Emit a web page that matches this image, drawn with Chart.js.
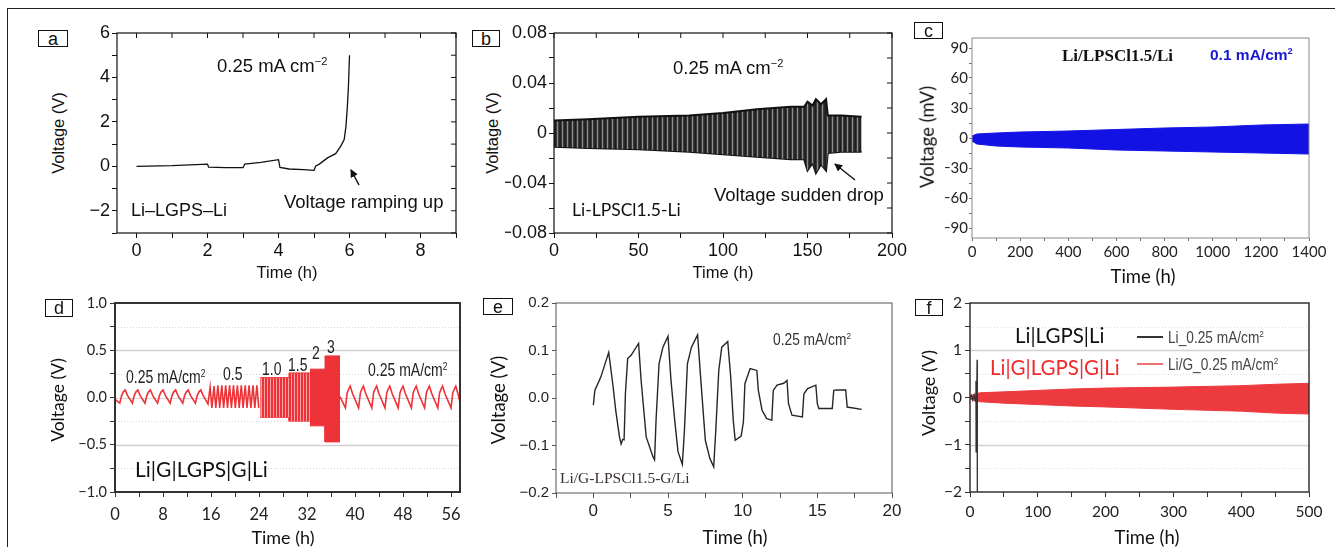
<!DOCTYPE html>
<html>
<head>
<meta charset="utf-8">
<script src="https://cdn.jsdelivr.net/npm/chart.js@4.4.1/dist/chart.umd.min.js"></script>
<style>
  body { margin: 0; width: 1335px; height: 547px; background: #fff; position: relative; overflow: hidden;
         font-family: "Liberation Sans", Arial, sans-serif; color: #111; }
  canvas { position: absolute; }
  .t { position: absolute; white-space: nowrap; line-height: 1; transform: translateY(-50%); }
  .tc { position: absolute; white-space: nowrap; line-height: 1; transform: translate(-50%, -50%); }
  .tv { position: absolute; white-space: nowrap; line-height: 1; transform: translate(-50%, -50%) rotate(-90deg); }
  .nar { transform: translateY(-50%) scaleX(0.8); transform-origin: left center; }
  .lato { font-family: Lato, "Open Sans", sans-serif; }
  .serif { font-family: "Liberation Serif", "Times New Roman", serif; }
  .box { position: absolute; border: 1.5px solid #111; box-sizing: border-box; background: #fff;
         display: flex; align-items: center; justify-content: center; font-size: 18px; line-height: 1; }
  sup { font-size: 0.6em; vertical-align: 0; position: relative; top: -0.6em; }
  #outer { position: absolute; left: 7px; top: 8px; width: 1400px; height: 600px;
           border-left: 1.5px solid #222; border-top: 1.5px solid #222; }
</style>
</head>
<body>
<div id="outer"></div>

<canvas id="chartA" width="400" height="245" style="left:70px;top:18px"></canvas>
<canvas id="chartB" width="412" height="245" style="left:505px;top:18px"></canvas>
<canvas id="chartC" width="385" height="245" style="left:945px;top:20px"></canvas>
<canvas id="chartD" width="400" height="240" style="left:70px;top:288px"></canvas>
<canvas id="chartE" width="412" height="240" style="left:505px;top:288px"></canvas>
<canvas id="chartF" width="405" height="240" style="left:925px;top:288px"></canvas>

<!-- panel a -->
<div class="box" style="left:38px;top:30px;width:30px;height:17px">a</div>
<div class="t" style="left:217px;top:66px;font-size:18.5px">0.25 mA cm<sup>−2</sup></div>
<div class="t" style="left:131px;top:210px;font-size:18px">Li–LGPS–Li</div>
<div class="t" style="left:284px;top:202px;font-size:18.5px">Voltage ramping up</div>
<div class="tc" style="left:287px;top:272px;font-size:16.5px">Time (h)</div>
<div class="tv" style="left:58px;top:133px;font-size:16.5px">Voltage (V)</div>

<!-- panel b -->
<div class="box" style="left:472px;top:30px;width:28px;height:17px">b</div>
<div class="t" style="left:673px;top:68px;font-size:18.5px">0.25 mA cm<sup>−2</sup></div>
<div class="t lato" style="left:572px;top:210px;font-size:17.5px">Li-LPSCl1.5-Li</div>
<div class="t" style="left:714px;top:195px;font-size:18.5px">Voltage sudden drop</div>
<div class="tc" style="left:723px;top:272px;font-size:16.5px">Time (h)</div>
<div class="tv" style="left:492px;top:133px;font-size:16.5px">Voltage (V)</div>

<!-- panel c -->
<div class="box" style="left:914px;top:22px;width:29px;height:17px">c</div>
<div class="t serif" style="left:1062px;top:55px;font-size:17px;font-weight:bold">Li/LPSCl1.5/Li</div>
<div class="t" style="left:1210px;top:55px;font-size:15.5px;font-weight:bold;color:#1818d0">0.1 mA/cm<sup>2</sup></div>
<div class="tc lato" style="left:1143px;top:276px;font-size:18.5px">Time (h)</div>
<div class="tv lato" style="left:927px;top:137px;font-size:18.5px">Voltage (mV)</div>

<!-- panel d -->
<div class="box" style="left:45px;top:299px;width:28px;height:18px">d</div>
<div class="t nar" style="left:126px;top:378px;font-size:17.5px;color:#222">0.25 mA/cm<sup>2</sup></div>
<div class="t nar" style="left:223px;top:375px;font-size:17.5px;color:#222">0.5</div>
<div class="t nar" style="left:262px;top:370px;font-size:17.5px;color:#222">1.0</div>
<div class="t nar" style="left:288px;top:366px;font-size:17.5px;color:#222">1.5</div>
<div class="t nar" style="left:312px;top:354px;font-size:17.5px;color:#222">2</div>
<div class="t nar" style="left:327px;top:348px;font-size:17.5px;color:#222">3</div>
<div class="t nar" style="left:368px;top:371px;font-size:17.5px;color:#222">0.25 mA/cm<sup>2</sup></div>
<div class="t lato" style="left:135px;top:468px;font-size:21px;color:#111">Li|G|LGPS|G|Li</div>
<div class="tc lato" style="left:283px;top:537px;font-size:18px">Time (h)</div>
<div class="tv lato" style="left:58px;top:400px;font-size:17.5px">Voltage (V)</div>

<!-- panel e -->
<div class="box" style="left:483px;top:298px;width:30px;height:17px">e</div>
<div class="t" style="left:773px;top:340px;font-size:16px;color:#333;transform:translateY(-50%) scaleX(0.86);transform-origin:left center">0.25 mA/cm<sup>2</sup></div>
<div class="t serif" style="left:560px;top:478px;font-size:15.5px;color:#3a3030">Li/G-LPSCl1.5-G/Li</div>
<div class="tc lato" style="left:735px;top:537px;font-size:18.5px">Time (h)</div>
<div class="tv lato" style="left:498px;top:400px;font-size:18.5px">Voltage (V)</div>

<!-- panel f -->
<div class="box" style="left:915px;top:299px;width:28px;height:17px">f</div>
<div class="t lato" style="left:1015px;top:335px;font-size:20.5px;color:#111">Li|LGPS|Li</div>
<div class="t lato" style="left:990px;top:367px;font-size:20.5px;color:#ee2a2a">Li|G|LGPS|G|Li</div>
<div style="position:absolute;left:1137px;top:336px;width:26px;height:1.5px;background:#333"></div>
<div class="t" style="left:1168px;top:337px;font-size:16.5px;color:#444;transform:translateY(-50%) scaleX(0.83);transform-origin:left center">Li_0.25 mA/cm<sup>2</sup></div>
<div style="position:absolute;left:1137px;top:363px;width:26px;height:2px;background:#f07070"></div>
<div class="t" style="left:1168px;top:364px;font-size:16.5px;color:#444;transform:translateY(-50%) scaleX(0.83);transform-origin:left center">Li/G_0.25 mA/cm<sup>2</sup></div>
<div class="tc lato" style="left:1147px;top:537px;font-size:18.5px">Time (h)</div>
<div class="tv lato" style="left:928px;top:393px;font-size:18px">Voltage (V)</div>

<!-- arrows in a and b -->
<svg style="position:absolute;left:0;top:0" width="1335" height="547">
  <defs>
    <marker id="ah" markerWidth="8" markerHeight="8" refX="7" refY="4" orient="auto" markerUnits="userSpaceOnUse">
      <path d="M0,0 L8,4 L0,8 Z" fill="#111"/>
    </marker>
  </defs>
  <line x1="359" y1="185" x2="351" y2="170" stroke="#111" stroke-width="1.5" marker-end="url(#ah)"/>
  <line x1="855" y1="180" x2="835" y2="164" stroke="#111" stroke-width="1.5" marker-end="url(#ah)"/>
</svg>

<script>
// ---- panel a: Li-LGPS-Li
const aTime = [0, 1, 2, 2.03, 2.5, 3, 3.05, 3.5, 4, 4.04, 4.3, 4.7, 5, 5.05, 5.15, 5.38, 5.61, 5.75, 5.85, 5.9, 5.94, 5.97, 6.0];
const aVolt = [0, 0.03, 0.1, -0.04, -0.06, -0.06, 0.1, 0.18, 0.3, -0.05, -0.12, -0.15, -0.18, 0.02, 0.1, 0.38, 0.57, 0.9, 1.2, 1.8, 2.7, 3.6, 5.0];

// ---- panel b: Li-LPSCl1.5-Li envelope of the cycling
const bTime  = [0, 20, 50, 80, 100, 120, 140, 148, 150, 153, 155, 158, 161, 162, 170, 182];
const bUpper = [0.010, 0.011, 0.013, 0.014, 0.016, 0.019, 0.021, 0.021, 0.025, 0.022, 0.027, 0.023, 0.027, 0.014, 0.014, 0.013];
const bLower = [-0.011, -0.012, -0.013, -0.015, -0.017, -0.019, -0.021, -0.021, -0.030, -0.024, -0.032, -0.025, -0.030, -0.016, -0.015, -0.015];

// ---- panel c: Li/LPSCl1.5/Li envelope (mV)
const cTime  = [0, 20, 100, 200, 400, 600, 800, 1000, 1200, 1400];
const cUpper = [2, 4, 5, 6, 7, 8.5, 10, 11, 13, 14];
const cLower = [-3, -6, -8, -9, -10, -12, -13, -14, -15, -16];

// ---- panel d: Li|G|LGPS|G|Li rate test
const dTime1 = [0, 0.8, 1.1, 1.4, 1.7, 2.1, 2.9, 3.2, 3.5, 3.8, 4.2, 5.0, 5.3, 5.6, 5.9, 6.3, 7.1,
  7.4, 7.7, 8.0, 8.4, 9.2, 9.5, 9.8, 10.1, 10.5, 11.3, 11.6, 11.9, 12.2, 12.6, 13.4, 13.7, 14.0, 14.3, 14.7, 15.5,
  15.85, 16.15, 16.5, 16.8, 17.15, 17.45, 17.8, 18.1, 18.45, 18.75, 19.1, 19.4, 19.75, 20.05, 20.4, 20.7,
  21.05, 21.35, 21.7, 22.0, 22.35, 22.65, 23.0, 23.3, 23.65, 23.95];
const dVolt1 = [-0.02, -0.06, 0.02, 0.06, 0.08, 0.02, -0.06, 0.02, 0.06, 0.08, 0.02, -0.06, 0.02, 0.06, 0.08, 0.02, -0.06,
  0.02, 0.06, 0.08, 0.02, -0.06, 0.02, 0.06, 0.08, 0.02, -0.06, 0.02, 0.06, 0.08, 0.02, -0.06, 0.02, 0.06, 0.08, 0.02, -0.07,
  0.11, -0.11, 0.12, -0.11, 0.13, -0.11, 0.13, -0.11, 0.13, -0.11, 0.13, -0.11, 0.13, -0.11, 0.13, -0.11,
  0.13, -0.11, 0.13, -0.11, 0.13, -0.11, 0.13, -0.11, 0.13, -0.11];
const dTime2 = [37.5, 38.4, 38.7, 38.95, 39.2, 39.6, 40.6, 40.9, 41.15, 41.4, 41.8, 42.8, 43.1, 43.35, 43.6, 44.0, 45.0,
  45.3, 45.55, 45.8, 46.2, 47.2, 47.5, 47.75, 48.0, 48.4, 49.4, 49.7, 49.95, 50.2, 50.6, 51.6,
  51.9, 52.15, 52.4, 52.8, 53.8, 54.1, 54.35, 54.6, 55.0, 56.0, 56.3, 56.55, 56.8, 57.2, 57.5];
const dVolt2 = [0.01, -0.11, 0.05, 0.09, 0.12, 0.04, -0.11, 0.05, 0.09, 0.12, 0.04, -0.11, 0.05, 0.09, 0.12, 0.04, -0.11,
  0.05, 0.09, 0.12, 0.04, -0.11, 0.05, 0.09, 0.12, 0.04, -0.11, 0.05, 0.09, 0.12, 0.04, -0.11,
  0.05, 0.09, 0.12, 0.04, -0.11, 0.05, 0.09, 0.12, 0.04, -0.11, 0.05, 0.09, 0.12, 0.03, -0.05];
// dense high-rate blocks (1.0 / 1.5 and 2 / 3 mA/cm2)
const dBandTimeA  = [24.2, 29, 29, 32.5];
const dBandUpperA = [0.21, 0.21, 0.26, 0.26];
const dBandLowerA = [-0.21, -0.21, -0.25, -0.25];
const dBandTimeB  = [32.5, 35, 35, 37.5];
const dBandUpperB = [0.30, 0.30, 0.44, 0.44];
const dBandLowerB = [-0.30, -0.30, -0.47, -0.47];

// ---- panel e: Li/G-LPSCl1.5-G/Li
const eTime = [0, 0.1, 0.5, 1.03, 1.3, 1.5, 1.75, 1.86, 1.97, 2.06, 2.15, 2.3, 2.53, 3.03, 3.2, 3.54, 4.0, 4.1, 4.2, 4.4,
  4.66, 5.0, 5.2, 5.45, 5.67, 5.96, 6.1, 6.3, 6.57, 6.98, 7.2, 7.5, 7.8, 8.06, 8.2, 8.4, 8.6, 9.0, 9.2, 9.37, 9.5,
  9.9, 10.05, 10.15, 10.5, 10.95, 11.05, 11.3, 11.6, 11.95, 12.05, 12.3, 12.75, 12.97, 13.07, 13.3, 14.0, 14.1,
  14.35, 14.9, 15.0, 15.1, 16.0, 16.1, 16.3, 16.9, 17.0, 17.97];
const eVolt = [-0.015, 0.016, 0.044, 0.096, 0.03, -0.026, -0.082, -0.097, -0.087, -0.088, 0.01, 0.083, 0.09, 0.115, 0.037,
  -0.082, -0.124, -0.13, -0.047, 0.072, 0.107, 0.13, 0.037, -0.047, -0.113, -0.14, -0.068, 0.072, 0.107, 0.133, 0.037,
  -0.089, -0.127, -0.145, -0.068, 0.058, 0.107, 0.119, 0.044, -0.047, -0.089, -0.08, -0.05, 0.03, 0.062, 0.058, 0.016,
  -0.026, -0.043, -0.047, 0.016, 0.027, 0.031, 0.037, -0.012, -0.036, -0.04, 0.009, 0.02, 0.027, -0.012, -0.022,
  -0.022, 0.016, 0.017, 0.017, -0.019, -0.024];

// ---- panel f: Li|LGPS|Li vs Li|G|LGPS|G|Li
const fTime  = [0, 5, 15, 50, 100, 150, 200, 300, 400, 450, 500];
const fUpper = [0.02, 0.06, 0.10, 0.12, 0.15, 0.18, 0.20, 0.22, 0.25, 0.28, 0.30];
const fLower = [-0.03, -0.06, -0.09, -0.12, -0.15, -0.18, -0.20, -0.25, -0.29, -0.33, -0.35];
const fLiTime = [0, 2, 4, 6, 8, 8.8, 9.0, 9.3, 9.6, 10.5, 10.8];
const fLiVolt = [0, 0.05, -0.05, 0.05, -0.08, 0.35, -1.15, 0.25, -0.6, 0.8, -2.0];

const pts = (xs, ys) => xs.map((x, i) => ({ x: x, y: ys[i] }));
const minus = s => String(s).replace('-', '\u2212');

function stripes(canvasId, colors) {
  const p = document.createElement('canvas');
  p.width = colors.length; p.height = 1;
  const c = p.getContext('2d');
  colors.forEach((col, i) => { c.fillStyle = col; c.fillRect(i, 0, 1, 1); });
  return document.getElementById(canvasId).getContext('2d').createPattern(p, 'repeat');
}

const framePlugin = {
  id: 'frame',
  afterDraw(chart, args, o) {
    const { ctx, chartArea: a, scales } = chart;
    ctx.save();
    ctx.strokeStyle = o.color;
    ctx.lineWidth = o.width;
    if (o.mirror) {
      ctx.lineWidth = 1;
      scales.x.ticks.forEach(t => {
        const px = scales.x.getPixelForValue(t.value);
        ctx.beginPath(); ctx.moveTo(px, a.top); ctx.lineTo(px, a.top + 5); ctx.stroke();
      });
      scales.y.ticks.forEach(t => {
        const py = scales.y.getPixelForValue(t.value);
        ctx.beginPath(); ctx.moveTo(a.right, py); ctx.lineTo(a.right - 5, py); ctx.stroke();
      });
      ctx.lineWidth = o.width;
    }
    ctx.strokeRect(a.left, a.top, a.right - a.left, a.bottom - a.top);
    ctx.restore();
  }
};

const gridPlugin = {
  id: 'hgrid',
  beforeDatasetsDraw(chart, args, o) {
    if (!o.lines) return;
    const { ctx, chartArea: a, scales } = chart;
    ctx.save();
    o.lines.forEach(l => {
      const py = Math.round(scales.y.getPixelForValue(l.v)) + 0.5;
      ctx.strokeStyle = l.color;
      ctx.lineWidth = l.width || 1;
      ctx.setLineDash(l.dash || []);
      ctx.beginPath(); ctx.moveTo(a.left, py); ctx.lineTo(a.right, py); ctx.stroke();
    });
    ctx.restore();
  }
};

function axis(c) {
  return {
    type: 'linear', min: c.min, max: c.max,
    afterBuildTicks: s => { s.ticks = c.major.concat(c.minor).map(v => ({ value: v })); },
    afterFit: s => { if (s.isHorizontal()) s.height = c.size; else s.width = c.size; },
    ticks: {
      autoSkip: false, maxRotation: 0, padding: c.pad, color: c.color || '#111', font: c.font,
      callback: v => c.major.includes(v) ? minus(c.fmt(v)) : ''
    },
    grid: { drawOnChartArea: false, drawTicks: true, tickLength: c.tick, color: c.frame, lineWidth: 1 },
    border: { display: false }
  };
}

function makePanel(id, cfg) {
  return new Chart(document.getElementById(id), {
    type: 'line',
    data: { datasets: cfg.datasets },
    options: {
      responsive: false, animation: false, devicePixelRatio: 1,
      layout: { autoPadding: false, padding: { top: cfg.padTop, right: cfg.padRight, left: 0, bottom: 0 } },
      elements: { point: { radius: 0 }, line: { tension: 0 } },
      plugins: {
        legend: { display: false }, tooltip: { enabled: false },
        frame: cfg.frame, hgrid: { lines: cfg.grid }
      },
      scales: { x: axis(cfg.x), y: axis(cfg.y) }
    },
    plugins: [framePlugin, gridPlugin]
  });
}

const arial = s => ({ family: '"Liberation Sans", Arial, sans-serif', size: s });
const lato = s => ({ family: 'Lato, "Open Sans", sans-serif', size: s });

// a
makePanel('chartA', {
  padTop: 15, padRight: 14,
  frame: { color: '#111', width: 1.2, mirror: true },
  x: { min: -0.55, max: 9, major: [0, 2, 4, 6, 8], minor: [1, 3, 5, 7, 9], fmt: v => v,
       size: 30, tick: 5, pad: 2, font: arial(18), frame: '#111' },
  y: { min: -3, max: 6, major: [-2, 0, 2, 4, 6], minor: [-3, -1, 1, 3, 5], fmt: v => v,
       size: 47, tick: 5, pad: 2, font: arial(18), frame: '#111' },
  datasets: [{ data: pts(aTime, aVolt), borderColor: '#111', borderWidth: 1.3, fill: false }]
});

// b
makePanel('chartB', {
  padTop: 15, padRight: 25,
  frame: { color: '#111', width: 1.2, mirror: true },
  x: { min: 0, max: 200, major: [0, 50, 100, 150, 200], minor: [25, 75, 125, 175], fmt: v => v,
       size: 30, tick: 5, pad: 2, font: arial(18), frame: '#111' },
  y: { min: -0.08, max: 0.08, major: [-0.08, -0.04, 0, 0.04, 0.08], minor: [-0.06, -0.02, 0.02, 0.06],
       fmt: v => v === 0 ? '0' : v.toFixed(2), size: 49, tick: 5, pad: 2, font: arial(18), frame: '#111' },
  datasets: [
    { data: pts(bTime, bUpper), borderColor: '#111', borderWidth: 2,
      backgroundColor: stripes('chartB', ['#1e1e1e', '#3a3a3a', '#8c8c8c', '#3a3a3a', '#262626']), fill: '+1' },
    { data: pts(bTime, bLower), borderColor: '#111', borderWidth: 2, fill: false }
  ]
});

// c
makePanel('chartC', {
  padTop: 18, padRight: 21,
  frame: { color: '#8a8a8a', width: 1 },
  x: { min: 0, max: 1400, major: [0, 200, 400, 600, 800, 1000, 1200, 1400], minor: [100, 300, 500, 700, 900, 1100, 1300],
       fmt: v => v, size: 27, tick: 3, pad: 2, font: lato(15), color: '#222', frame: '#777' },
  y: { min: -100, max: 100, major: [-90, -60, -30, 0, 30, 60, 90], minor: [-75, -45, -15, 15, 45, 75],
       fmt: v => v, size: 27, tick: 3, pad: 1, font: lato(15), color: '#222', frame: '#777' },
  datasets: [
    { data: pts(cTime, cUpper), borderColor: '#1414e6', borderWidth: 1, backgroundColor: '#1212e4', fill: '+1' },
    { data: pts(cTime, cLower), borderColor: '#1414e6', borderWidth: 1, fill: false }
  ]
});

// d
makePanel('chartD', {
  padTop: 15, padRight: 10,
  frame: { color: '#333', width: 2 },
  grid: [
    { v: 0.75, color: '#d6d6d6', dash: [1, 2] }, { v: 0.5, color: '#cfcfcf', width: 1.5 },
    { v: 0.25, color: '#d6d6d6', dash: [1, 2] }, { v: 0, color: '#d6d6d6' },
    { v: -0.25, color: '#d6d6d6', dash: [1, 2] }, { v: -0.5, color: '#cfcfcf', width: 1.5 },
    { v: -0.75, color: '#d6d6d6', dash: [1, 2] }
  ],
  x: { min: 0, max: 57.5, major: [0, 8, 16, 24, 32, 40, 48, 56], minor: [4, 12, 20, 28, 36, 44, 52],
       fmt: v => v, size: 36, tick: 5, pad: 8, font: lato(16.5), color: '#222', frame: '#333' },
  y: { min: -1, max: 1, major: [-1, -0.5, 0, 0.5, 1], minor: [-0.75, -0.25, 0.25, 0.75],
       fmt: v => v.toFixed(1), size: 45, tick: 5, pad: 3, font: lato(14.5), color: '#222', frame: '#333' },
  datasets: [
    { data: pts(dTime1, dVolt1), borderColor: '#ee3338', borderWidth: 1.6, fill: false },
    { data: pts(dTime2, dVolt2), borderColor: '#ee3338', borderWidth: 1.6, fill: false },
    { data: pts(dBandTimeA, dBandUpperA), borderColor: '#ee3338', borderWidth: 1,
      backgroundColor: stripes('chartD', ['#ee3338', '#ee3338', '#f7a3a5']), fill: '+1' },
    { data: pts(dBandTimeA, dBandLowerA), borderColor: '#ee3338', borderWidth: 1, fill: false },
    { data: pts(dBandTimeB, dBandUpperB), borderColor: '#ee3338', borderWidth: 1, backgroundColor: '#ee3338', fill: '+1' },
    { data: pts(dBandTimeB, dBandLowerB), borderColor: '#ee3338', borderWidth: 1, fill: false }
  ]
});

// e
makePanel('chartE', {
  padTop: 15, padRight: 25,
  frame: { color: '#555', width: 1 },
  x: { min: -2.5, max: 20, major: [0, 5, 10, 15, 20], minor: [-2.5, 2.5, 7.5, 12.5, 17.5],
       fmt: v => v, size: 35, tick: 5, pad: 3, font: arial(17), color: '#222', frame: '#555' },
  y: { min: -0.2, max: 0.2, major: [-0.2, -0.1, 0, 0.1, 0.2], minor: [-0.15, -0.05, 0.05, 0.15],
       fmt: v => v.toFixed(1), size: 51, tick: 4, pad: 3, font: arial(15), color: '#222', frame: '#555' },
  datasets: [{ data: pts(eTime, eVolt), borderColor: '#262626', borderWidth: 1.4, fill: false }]
});

// f
makePanel('chartF', {
  padTop: 15, padRight: 21,
  frame: { color: '#333', width: 1.5 },
  grid: [
    { v: 1.5, color: '#dcdcdc', dash: [1, 2] }, { v: 1, color: '#d2d2d2', width: 1.5 },
    { v: 0.5, color: '#dcdcdc', dash: [1, 2] }, { v: -0.5, color: '#dcdcdc', dash: [1, 2] },
    { v: -1, color: '#d2d2d2', width: 1.5 }, { v: -1.5, color: '#dcdcdc', dash: [1, 2] }
  ],
  x: { min: 0, max: 500, major: [0, 100, 200, 300, 400, 500], minor: [50, 150, 250, 350, 450],
       fmt: v => v, size: 36, tick: 5, pad: 6, font: lato(15.5), color: '#222', frame: '#333' },
  y: { min: -2, max: 2, major: [-2, -1, 0, 1, 2], minor: [-1.5, -0.5, 0.5, 1.5],
       fmt: v => v, size: 45, tick: 5, pad: 3, font: lato(15.5), color: '#222', frame: '#333' },
  datasets: [
    { data: pts(fLiTime, fLiVolt), borderColor: '#333', borderWidth: 1.3, fill: false },
    { data: pts(fTime, fUpper), borderColor: '#ec3a3f', borderWidth: 1, backgroundColor: '#ec3a3f', fill: '+1' },
    { data: pts(fTime, fLower), borderColor: '#ec3a3f', borderWidth: 1, fill: false }
  ]
});
</script>
</body>
</html>
